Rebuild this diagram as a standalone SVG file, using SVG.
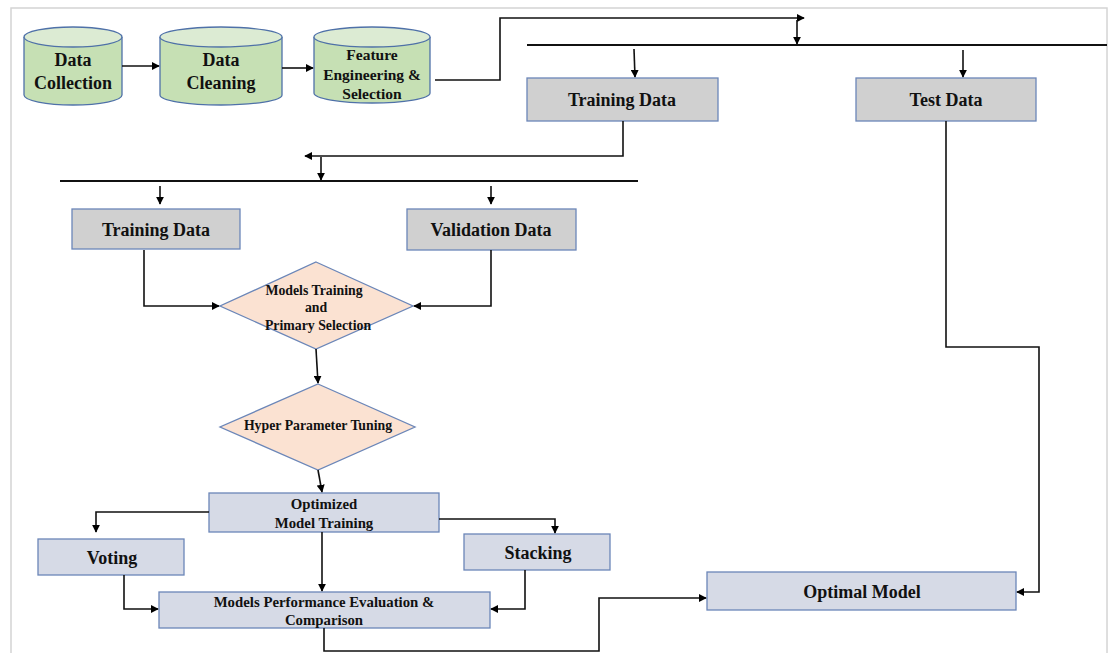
<svg xmlns="http://www.w3.org/2000/svg" width="1113" height="653" viewBox="0 0 1113 653">
<defs>
<marker id="ah" viewBox="0 0 10 10" refX="9" refY="5" markerWidth="8" markerHeight="8" markerUnits="userSpaceOnUse" orient="auto-start-reverse"><path d="M0,0 L10,5 L0,10 z" fill="#000"/></marker>
</defs>
<style>
text{font-family:"Liberation Serif","Times New Roman",serif;font-weight:bold;fill:#111;text-anchor:middle}
.cyl{fill:#c6e0b4;stroke:#4f71a8;stroke-width:1.3}
.cyltop{fill:#dcebd3;stroke:#4f71a8;stroke-width:1.3}
.gray{fill:#d0d0d0;stroke:#6b86b8;stroke-width:1.3}
.blue{fill:#d6dae6;stroke:#6b86b8;stroke-width:1.3}
.dia{fill:#fbe2d2;stroke:#6b86b8;stroke-width:1.3}
.c{fill:none;stroke:#111;stroke-width:1.6}
.bar{fill:none;stroke:#111;stroke-width:2}
.big{font-size:18px}
.fe{font-size:15.5px}
.dt{font-size:13.8px}
.mid{font-size:14.8px}
</style>
<rect x="11" y="8" width="1096" height="660" fill="#fff" stroke="#d4d4d4" stroke-width="1.5"/>
<g id="n-collection">
<path class="cyl" d="M24,37 L24,95 A49,10 0 0 0 122,95 L122,37"/>
<ellipse class="cyltop" cx="73" cy="37" rx="49" ry="10"/>
<text class="big" x="73" y="66">Data</text>
<text class="big" x="73" y="89">Collection</text>
</g>
<g id="n-cleaning">
<path class="cyl" d="M160,37 L160,95 A61,10 0 0 0 282,95 L282,37"/>
<ellipse class="cyltop" cx="221" cy="37" rx="61" ry="10"/>
<text class="big" x="221" y="66">Data</text>
<text class="big" x="221" y="89">Cleaning</text>
</g>
<g id="n-feature">
<path class="cyl" d="M314,37 L314,93 A58,10 0 0 0 430,93 L430,37"/>
<ellipse class="cyltop" cx="372" cy="37" rx="58" ry="10"/>
<text class="fe" x="372" y="60">Feature</text>
<text class="fe" x="372" y="80">Engineering &amp;</text>
<text class="fe" x="372" y="99">Selection</text>
</g>
<g id="n-train1">
<rect class="gray" x="527" y="78" width="191" height="43"/>
<text class="big" x="622" y="106">Training Data</text>
</g>
<g id="n-test">
<rect class="gray" x="856" y="78" width="180" height="43"/>
<text class="big" x="946" y="106">Test Data</text>
</g>
<g id="n-train2">
<rect class="gray" x="72" y="209" width="168" height="40"/>
<text class="big" x="156" y="236">Training Data</text>
</g>
<g id="n-valid">
<rect class="gray" x="407" y="209" width="169" height="41"/>
<text class="big" x="491" y="236">Validation Data</text>
</g>
<g id="n-models">
<polygon class="dia" points="316,262 413,306 316,349 220,306"/>
<text class="dt" x="314" y="295">Models Training</text>
<text class="dt" x="316" y="312">and</text>
<text class="dt" x="318" y="330">Primary Selection</text>
</g>
<g id="n-hyper">
<polygon class="dia" points="318,384 415,427 318,470 220,427"/>
<text class="dt" x="318" y="430">Hyper Parameter Tuning</text>
</g>
<g id="n-optimized">
<rect class="blue" x="209" y="493" width="230" height="39"/>
<text class="mid" x="324" y="509">Optimized</text>
<text class="mid" x="324" y="528">Model Training</text>
</g>
<g id="n-voting">
<rect class="blue" x="38" y="539" width="146" height="36"/>
<text class="big" x="112" y="564">Voting</text>
</g>
<g id="n-stacking">
<rect class="blue" x="464" y="534" width="146" height="36"/>
<text class="big" x="538" y="559">Stacking</text>
</g>
<g id="n-eval">
<rect class="blue" x="159" y="592" width="331" height="36"/>
<text class="mid" x="324" y="607">Models Performance Evaluation &amp;</text>
<text class="mid" x="324" y="625">Comparison</text>
</g>
<g id="n-optimal">
<rect class="blue" x="707" y="572" width="309" height="38"/>
<text class="big" x="862" y="598">Optimal Model</text>
</g>
<g id="connectors">
<line class="c" x1="122" y1="66" x2="159" y2="66" marker-end="url(#ah)"/>
<line class="c" x1="282" y1="68" x2="313" y2="68" marker-end="url(#ah)"/>
<polyline class="c" points="435,80 500,80 500,18 804,18" marker-end="url(#ah)"/>
<line class="c" x1="797" y1="20" x2="797" y2="44" marker-end="url(#ah)"/>
<line class="bar" x1="527" y1="45" x2="1107" y2="45"/>
<line class="c" x1="634" y1="49" x2="635" y2="77" marker-end="url(#ah)"/>
<line class="c" x1="963" y1="50" x2="963" y2="77" marker-end="url(#ah)"/>
<polyline class="c" points="623,121 623,156 305,156" marker-end="url(#ah)"/>
<line class="c" x1="321" y1="157" x2="321" y2="180" marker-end="url(#ah)"/>
<line class="bar" x1="60" y1="181" x2="638" y2="181"/>
<line class="c" x1="160" y1="186" x2="160" y2="204" marker-end="url(#ah)"/>
<line class="c" x1="491" y1="186" x2="491" y2="204" marker-end="url(#ah)"/>
<polyline class="c" points="144,250 144,306 219,306" marker-end="url(#ah)"/>
<polyline class="c" points="491,250 491,306 414,306" marker-end="url(#ah)"/>
<line class="c" x1="316" y1="349" x2="318" y2="383" marker-end="url(#ah)"/>
<line class="c" x1="318" y1="470" x2="322" y2="492" marker-end="url(#ah)"/>
<polyline class="c" points="209,512 96,512 96,532" marker-end="url(#ah)"/>
<polyline class="c" points="439,519 555,519 555,533" marker-end="url(#ah)"/>
<line class="c" x1="322" y1="532" x2="322" y2="591" marker-end="url(#ah)"/>
<polyline class="c" points="124,575 124,609 158,609" marker-end="url(#ah)"/>
<polyline class="c" points="525,570 525,609 491,609" marker-end="url(#ah)"/>
<polyline class="c" points="324,628 324,651 599,651 599,598 706,598" marker-end="url(#ah)"/>
<polyline class="c" points="946,121 946,347 1039,347 1039,592 1017,592" marker-end="url(#ah)"/>
</g>
</svg>
